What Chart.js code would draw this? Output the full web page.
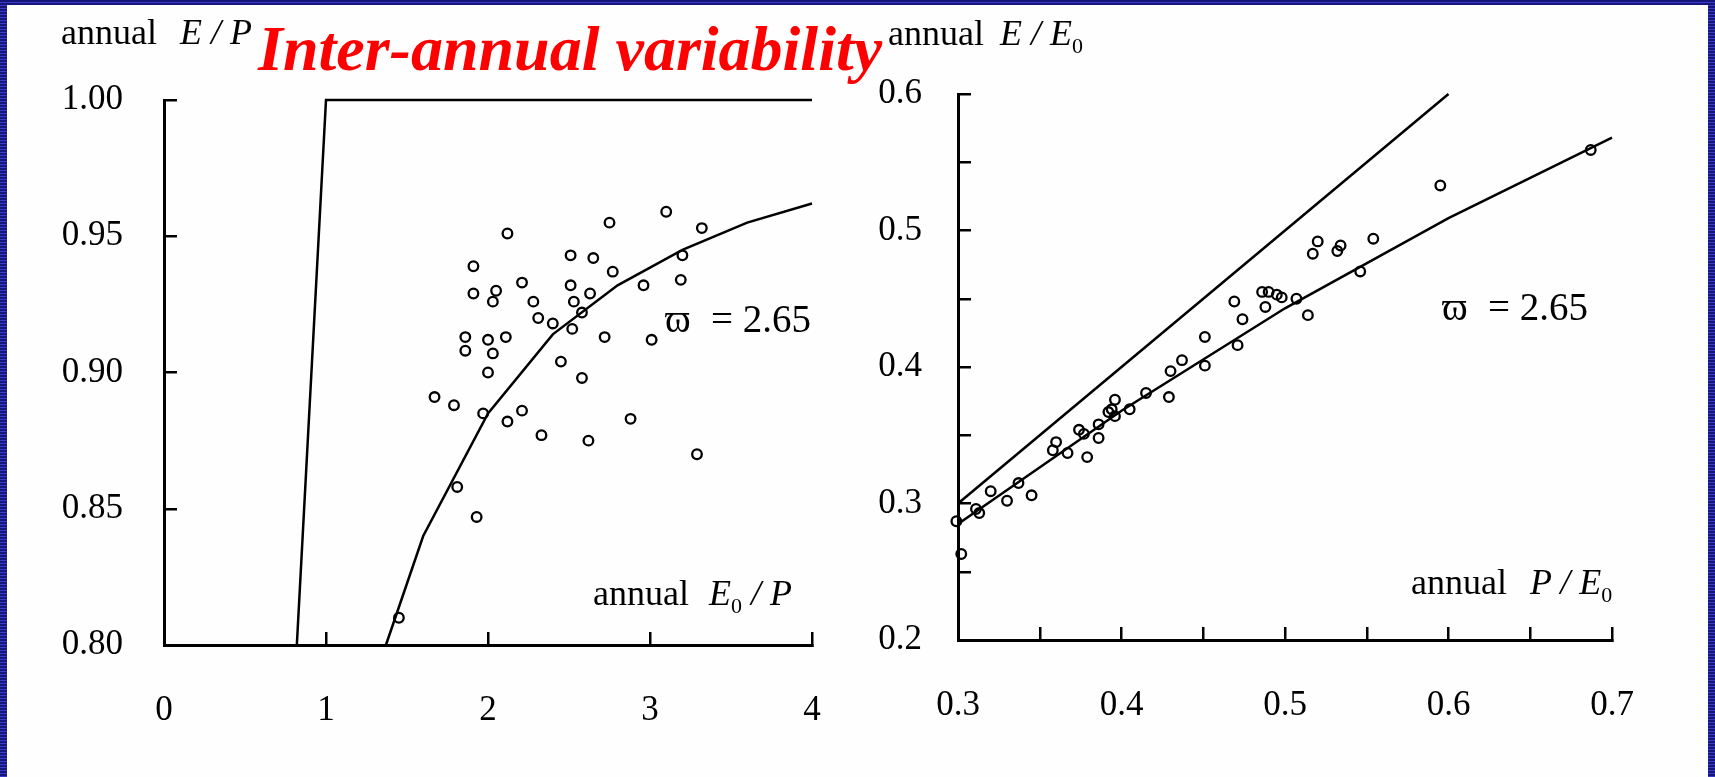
<!DOCTYPE html>
<html>
<head>
<meta charset="utf-8">
<script src="https://cdn.jsdelivr.net/npm/chart.js@4.4.1/dist/chart.umd.min.js"></script>
<style>
  html, body { margin: 0; padding: 0; }
  body {
    width: 1715px; height: 777px; overflow: hidden; position: relative;
    background: repeating-linear-gradient(to bottom, #15157a 0px, #15157a 2px, #3a3ac6 2px, #3a3ac6 3px);
  }
  #sheet { position: absolute; left: 7px; top: 5px; right: 7px; bottom: 0; background: #fefefe; }
  canvas { position: absolute; top: 0; }
  .txt { position: absolute; font-family: "Liberation Serif", "Times New Roman", serif; color: #000; line-height: 1; white-space: pre; }
  .ax { font-size: 36px; }
  .it { font-style: italic; }
  .sub { font-size: 22px; font-style: normal; position: relative; top: 8px; }
  .om { font-size: 39px; }
  #title { font-size: 64px; font-weight: bold; font-style: italic; color: #ff0000; left: 258px; top: 17px; }
</style>
</head>
<body>
<div id="sheet"></div>
<canvas id="leftChart" width="860" height="777" style="left:0"></canvas>
<canvas id="rightChart" width="855" height="777" style="left:860px"></canvas>

<div class="txt ax" style="left:61px; top:14px">annual</div>
<div class="txt ax it" style="left:180px; top:14px">E / P</div>
<div class="txt" id="title">Inter-annual variability</div>
<div class="txt ax" style="left:888px; top:15px">annual</div>
<div class="txt ax it" style="left:1000px; top:15px">E / E<span class="sub">0</span></div>

<div class="txt om" style="left:665px; top:299px"><span style="display:inline-block;width:46px">ϖ</span>= 2.65</div>
<div class="txt om" style="left:1442px; top:287px"><span style="display:inline-block;width:46px">ϖ</span>= 2.65</div>

<div class="txt ax" style="left:593px; top:575px">annual</div>
<div class="txt ax it" style="left:709px; top:575px">E<span class="sub">0</span> / P</div>
<div class="txt ax" style="left:1411px; top:564px">annual</div>
<div class="txt ax it" style="left:1530px; top:564px">P / E<span class="sub">0</span></div>

<script>
// left panel: annual E/P against annual E0/P
const leftX = [2.12, 2.75, 3.10, 3.32, 1.91, 2.51, 2.65, 3.20, 2.77, 3.19, 1.91, 2.05, 2.03, 2.21, 2.51,
  2.63, 2.96, 2.28, 2.53, 2.58, 2.31, 2.40, 2.52, 1.86, 1.86, 2.00, 2.11, 2.03, 2.72, 3.01,
  2.45, 2.00, 2.58, 1.67, 1.79, 1.97, 2.21, 2.12, 2.88, 2.33, 2.62, 3.29, 1.81, 1.93, 1.45];
const leftY = [0.951, 0.955, 0.959, 0.953, 0.939, 0.943, 0.942, 0.943, 0.937, 0.934, 0.929, 0.930, 0.926, 0.933, 0.932,
  0.929, 0.932, 0.926, 0.926, 0.922, 0.920, 0.918, 0.916, 0.913, 0.908, 0.912, 0.913, 0.907, 0.913, 0.912,
  0.904, 0.900, 0.898, 0.891, 0.888, 0.885, 0.886, 0.882, 0.883, 0.877, 0.875, 0.870, 0.858, 0.847, 0.810];
const leftCurveX = [1.37, 1.6, 2.0, 2.4, 2.8, 3.2, 3.6, 4.0];
const leftCurveY = [0.80, 0.84, 0.885, 0.914, 0.932, 0.945, 0.955, 0.962];
const leftLimitX = [0.82, 1.0, 4.0];
const leftLimitY = [0.8, 1.0, 1.0];
const leftXTicks = [0, 1, 2, 3, 4];
const leftYTicks = [0.80, 0.85, 0.90, 0.95, 1.00];

// right panel: annual E/E0 against annual P/E0
const rightX = [0.299, 0.302, 0.311, 0.313, 0.320, 0.330, 0.337, 0.345, 0.358, 0.360, 0.367, 0.374, 0.377, 0.379, 0.386,
  0.386, 0.392, 0.394, 0.396, 0.396, 0.405, 0.415, 0.429, 0.430, 0.437, 0.451, 0.451, 0.469, 0.471, 0.474,
  0.486, 0.490, 0.488, 0.495, 0.498, 0.507, 0.514, 0.517, 0.520, 0.532, 0.534, 0.546, 0.554, 0.595, 0.687];
const rightY = [0.287, 0.263, 0.296, 0.293, 0.309, 0.302, 0.315, 0.306, 0.339, 0.345, 0.337, 0.354, 0.351, 0.334, 0.358,
  0.348, 0.367, 0.369, 0.376, 0.364, 0.369, 0.381, 0.378, 0.397, 0.405, 0.422, 0.401, 0.448, 0.416, 0.435,
  0.455, 0.455, 0.444, 0.453, 0.451, 0.450, 0.438, 0.483, 0.492, 0.485, 0.489, 0.470, 0.494, 0.533, 0.559];
const rightCurveX = [0.3, 0.4, 0.5, 0.6, 0.7];
const rightCurveY = [0.285, 0.368, 0.443, 0.509, 0.568];
const rightLimitX = [0.3, 0.6];
const rightLimitY = [0.3, 0.6];
const rightXTicks = [0.3, 0.35, 0.4, 0.45, 0.5, 0.55, 0.6, 0.65, 0.7];
const rightYTicks = [0.2, 0.25, 0.3, 0.35, 0.4, 0.45, 0.5, 0.55, 0.6];

const serif = '"Liberation Serif", "Times New Roman", serif';
const pts = (xs, ys) => xs.map((x, i) => ({ x: x, y: ys[i] }));

function lineSet(xs, ys) {
  return { data: pts(xs, ys), showLine: true, pointRadius: 0, borderColor: '#000', borderWidth: 2.5, clip: false };
}
function dotSet(xs, ys) {
  return { data: pts(xs, ys), showLine: false, pointRadius: 4.8, pointBorderWidth: 2.3,
    pointBorderColor: '#000', pointBackgroundColor: 'rgba(0,0,0,0)', clip: false };
}

// inward ticks: negative tick length pushes them into the plot
function axis(min, max, tickVals, fmt, size, pad) {
  return {
    type: 'linear', min: min, max: max,
    afterBuildTicks: s => { s.ticks = tickVals.map(v => ({ value: v })); },
    afterFit: s => {
      if (s.isHorizontal()) { s.height = size; s.paddingLeft = 0; s.paddingRight = 0; }
      else { s.width = size; s.paddingTop = 0; s.paddingBottom = 0; }
    },
    ticks: { font: { family: serif, size: 35 }, color: '#000', padding: pad, autoSkip: false, maxRotation: 0,
      callback: fmt },
    grid: { drawOnChartArea: false, drawTicks: true, tickLength: -13, color: '#000', lineWidth: 2.5 },
    border: { display: true, color: '#000', width: 3 }
  };
}

const common = {
  responsive: false,
  animation: false,
  events: [],
  plugins: { legend: { display: false }, tooltip: { enabled: false } }
};

new Chart(document.getElementById('leftChart'), {
  type: 'scatter',
  data: { datasets: [lineSet(leftLimitX, leftLimitY), lineSet(leftCurveX, leftCurveY), dotSet(leftX, leftY)] },
  options: Object.assign({}, common, {
    layout: { padding: { top: 100, right: 48, left: 0, bottom: 0 } },
    scales: {
      x: axis(0, 4, leftXTicks, v => String(v), 132, 58),
      y: axis(0.8, 1.0, leftYTicks, v => v.toFixed(2), 164, 54)
    }
  })
});

const tenth = v => Math.abs(v * 10 - Math.round(v * 10)) < 1e-6 ? v.toFixed(1) : '';

new Chart(document.getElementById('rightChart'), {
  type: 'scatter',
  data: { datasets: [lineSet(rightLimitX, rightLimitY), lineSet(rightCurveX, rightCurveY), dotSet(rightX, rightY)] },
  options: Object.assign({}, common, {
    layout: { padding: { top: 94, right: 103, left: 0, bottom: 0 } },
    scales: {
      x: axis(0.3, 0.7, rightXTicks, tenth, 137, 58),
      y: axis(0.2, 0.6, rightYTicks, tenth, 98, 49)
    }
  })
});
</script>
</body>
</html>
